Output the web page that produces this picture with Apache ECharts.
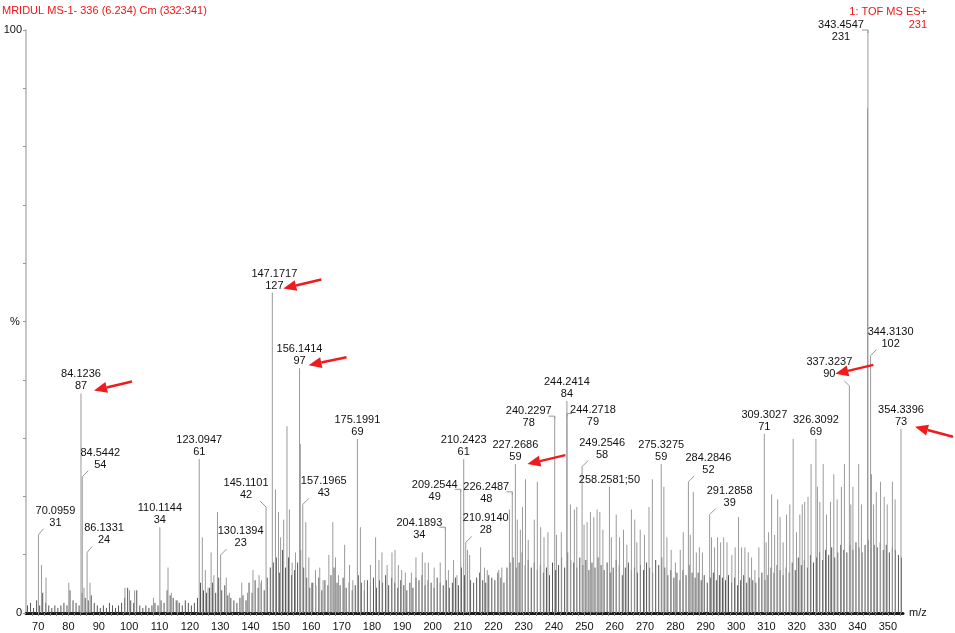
<!DOCTYPE html>
<html>
<head>
<meta charset="utf-8">
<title>MRIDUL MS-1</title>
<script src="https://cdn.jsdelivr.net/npm/echarts@6/dist/echarts.min.js"></script>
<style>
  html, body { margin: 0; padding: 0; background: #fff; }
  #main { width: 955px; height: 633px; }
</style>
</head>
<body>
<div id="main"></div>
<script>
// 基峰强度 (counts)
var baseCount = 231;

// 标注的峰: m/z 与强度
var labelMz = [70.0959, 84.1236, 84.5442, 86.1331, 110.1144, 123.0947, 130.1394, 145.1101,
  147.1717, 156.1414, 157.1965, 175.1991, 204.1893, 209.2544, 210.2423, 210.9140,
  226.2487, 227.2686, 240.2297, 244.2414, 244.2718, 249.2546, 258.2581, 275.3275,
  284.2846, 291.2858, 309.3027, 326.3092, 337.3237, 343.4547, 344.3130, 354.3396];
var labelCounts = [31, 87, 54, 24, 34, 61, 23, 42,
  127, 97, 43, 69, 34, 49, 61, 28,
  48, 59, 78, 84, 79, 58, 50, 59,
  52, 39, 71, 69, 90, 231, 102, 73];

// 其它峰 (未标注)
var otherMz = [71.1, 72.6, 80.1, 85.1, 87.1, 98.6, 100.1, 101.8, 108.0, 112.8, 113.9, 116.0,
  124.1, 125.1, 126.0, 127.0, 127.9, 129.1, 132.0, 133.0, 137.1, 139.0, 140.8, 142.8, 143.6,
  148.2, 149.2, 149.9, 150.9, 152.0, 152.8, 153.7, 154.8, 156.4, 158.2, 159.2, 160.1, 161.4,
  162.8, 163.9, 165.8, 167.1, 168.0, 169.0, 171.0, 172.6, 173.7, 176.2, 177.5, 179.5, 181.2,
  182.3, 183.3, 185.0, 186.6, 187.6, 188.7, 189.8, 191.0, 193.0, 194.5, 196.6, 197.5, 198.6,
  200.5, 202.5, 205.2, 206.9, 208.0, 211.5, 212.2, 215.8, 217.1, 218.0, 221.8, 222.8, 225.3,
  227.9, 228.9, 229.6, 230.6, 231.5, 233.5, 234.5, 235.6, 236.7, 238.0, 240.8, 242.4, 245.4,
  246.7, 247.5, 249.9, 250.9, 252.0, 253.1, 254.2, 255.1, 256.1, 258.9, 260.5, 261.6, 262.9,
  264.0, 265.5, 266.6, 267.3, 268.4, 269.8, 271.3, 272.4, 276.2, 277.2, 278.6, 280.0, 281.6,
  282.6, 284.9, 285.9, 286.9, 287.9, 288.9, 291.9, 292.9, 293.9, 294.9, 295.9, 297.0, 298.6,
  299.7, 300.8, 301.8, 302.9, 304.0, 305.1, 306.2, 307.5, 309.9, 310.7, 311.7, 312.7, 313.7,
  314.5, 315.5, 316.6, 317.7, 318.8, 319.9, 321.0, 321.8, 322.6, 323.7, 324.7, 326.8, 327.6,
  328.7, 329.8, 331.1, 332.2, 333.3, 334.7, 335.7, 337.8, 338.5, 340.4, 341.3, 343.3, 344.6,
  345.3, 346.2, 347.6, 348.8, 349.8, 351.5, 352.4];
var otherCounts = [19, 14, 12, 10, 12, 10, 9, 9, 6, 18, 8, 5,
  30, 17, 10, 24, 15, 40, 14, 8, 12, 8, 17, 15, 13,
  49, 40, 30, 37, 74, 41, 20, 24, 67, 36, 22, 12, 17,
  18, 13, 23, 36, 22, 15, 27, 19, 13, 34, 13, 19, 30,
  21, 24, 19, 24, 25, 19, 17, 16, 16, 22, 24, 20, 20,
  18, 20, 17, 21, 15, 25, 23, 26, 18, 17, 17, 18, 41,
  37, 33, 42, 53, 29, 37, 52, 34, 30, 32, 31, 32, 43,
  41, 42, 35, 36, 40, 38, 41, 40, 33, 30, 39, 30, 33,
  27, 41, 37, 28, 33, 31, 42, 53, 50, 30, 25, 20, 25,
  32, 31, 48, 24, 26, 24, 30, 26, 30, 28, 30, 28, 23,
  26, 38, 26, 26, 24, 22, 17, 26, 28, 32, 47, 31, 45,
  38, 28, 39, 43, 69, 32, 39, 43, 44, 46, 59, 50, 44,
  59, 39, 44, 55, 45, 50, 59, 43, 50, 59, 43, 200, 55,
  43, 48, 52, 46, 43, 52, 45];

// 背景小峰: 从 66.5 起每隔 1 个单位
var noiseStart = 66.5;
var noiseCounts = [
  3, 4, 2, 5, 3, 8, 4, 3, 2, 3,
  2, 3, 4, 3, 9, 5, 4, 3, 8, 6,
  5, 7, 4, 3, 2, 3, 2, 4, 3, 2,
  3, 4, 6, 10, 5, 4, 9, 3, 2, 3,
  2, 3, 4, 3, 5, 4, 9, 7, 6, 5,
  4, 3, 5, 4, 3, 4, 6, 12, 9, 8,
  10, 12, 8, 14, 9, 11, 7, 6, 5, 4,
  6, 7, 5, 12, 8, 13, 10, 12, 9, 14,
  18, 20, 22, 16, 25, 18, 22, 15, 17, 20,
  25, 18, 14, 10, 12, 11, 14, 9, 13, 11,
  15, 18, 12, 11, 14, 10, 12, 9, 11, 15,
  12, 9, 13, 11, 14, 10, 13, 12, 15, 11,
  14, 12, 10, 13, 11, 9, 12, 10, 14, 13,
  15, 11, 13, 12, 10, 14, 12, 11, 13, 10,
  12, 14, 11, 18, 15, 19, 13, 12, 14, 16,
  13, 12, 15, 14, 13, 16, 14, 12, 18, 20,
  22, 18, 20, 24, 19, 21, 18, 20, 17, 19,
  16, 18, 15, 20, 17, 19, 22, 18, 24, 21,
  20, 18, 22, 19, 21, 17, 20, 18, 22, 19,
  17, 20, 16, 18, 21, 19, 15, 18, 20, 17,
  18, 16, 19, 17, 20, 18, 16, 21, 19, 22,
  18, 15, 17, 14, 16, 13, 17, 15, 19, 16,
  14, 16, 13, 15, 12, 14, 16, 13, 15, 14,
  13, 15, 12, 14, 11, 13, 15, 12, 14, 13,
  12, 14, 16, 13, 15, 18, 16, 19, 17, 15,
  18, 16, 20, 17, 22, 19, 21, 18, 23, 20,
  22, 24, 21, 25, 23, 26, 22, 24, 27, 25,
  24, 27, 25, 28, 26, 24, 27, 29, 25, 27,
  26, 28, 25, 27, 24, 26, 25, 23, 22];

// 标注布局: [dx, dy, 引线类型, lx, ly]  类型 0 无, 1 斜线, 2 折线, 3 单行
var labelLayout = [
  [17, -6, 1, 5, -6], [0, -1, 0], [18, -6, 1, 6, -6], [17, -6, 1, 5, -6],
  [0, -1, 0], [0, -1, 0], [20, -6, 1, 6, -6], [-20, -6, 1, -6, -6],
  [2, -1, 0], [0, -1, 0], [21, -6, 1, 6, -6], [0, -1, 0],
  [-26, 14, 2, -6, 0], [-26, 14, 2, -6, 0], [0, -1, 0], [20, -6, 1, 6, -6],
  [-26, 13, 2, -6, 0], [0, -1, 0], [-26, 13, 2, -6, 0], [0, -1, 0],
  [26, 14, 2, 5, 0], [20, -6, 1, 6, -6], [0, -1, 3], [0, -1, 0],
  [20, -6, 1, 6, -6], [20, -6, 1, 6, -6], [0, -1, 0], [0, -1, 0],
  [-20, -6, 1, -5, -5], [-27, 13, 2, -6, 0], [20, -6, 1, 6, -6], [0, -1, 0]
];
// 红色箭头: 标注序号 -> [尾 dx, 尾 dy, 头 dx, 头 dy]
var arrows = {
  1: [51, -12, 13, -3],
  8: [49, -13, 11, -4],
  9: [47, -11, 9, -3],
  17: [50, -9, 12, 0],
  28: [24, -21, -14, -12],
  31: [52, 8, 14, -2]
};

function pct(c) { return c / baseCount * 100; }

var peakData = [];
for (var i = 0; i < labelMz.length; i++) peakData.push([labelMz[i], pct(labelCounts[i])]);
for (var j = 0; j < otherMz.length; j++) peakData.push([otherMz[j], pct(otherCounts[j])]);
var noiseData = noiseCounts.map(function (c, k) { return [noiseStart + k, pct(c)]; });
var labelData = labelMz.map(function (m, k) { return [m, pct(labelCounts[k]), k]; });

function stickItem(color) {
  return function (params, api) {
    var p0 = api.coord([api.value(0), 0]);
    var p1 = api.coord([api.value(0), api.value(1)]);
    return {
      type: 'line',
      shape: { x1: p0[0], y1: p0[1], x2: p1[0], y2: p1[1] },
      style: { stroke: color, lineWidth: 1 }
    };
  };
}

function labelItem(params, api) {
  var k = api.value(2);
  var top = api.coord([api.value(0), api.value(1)]);
  var lay = labelLayout[k];
  var mzText = labelMz[k].toFixed(4);
  var txt = lay[2] === 3 ? mzText + ';' + labelCounts[k] : mzText + '\n' + labelCounts[k];
  var children = [{
    type: 'text',
    style: {
      text: txt, x: top[0] + lay[0], y: top[1] + lay[1],
      align: 'center', verticalAlign: 'bottom',
      fontSize: 11, fontFamily: 'Liberation Sans, Arial', lineHeight: 12, fill: '#111'
    }
  }];
  // 引线
  if (lay[2] === 1) {
    children.push({
      type: 'line',
      shape: { x1: top[0], y1: top[1], x2: top[0] + lay[3], y2: top[1] + lay[4] },
      style: { stroke: '#999', lineWidth: 1 }
    });
  } else if (lay[2] === 2) {
    children.push({
      type: 'polyline',
      shape: { points: [[top[0] + lay[3], top[1] + lay[4]], [top[0], top[1] + lay[4]], [top[0], top[1] + 3]] },
      style: { stroke: '#999', lineWidth: 1, fill: null }
    });
  }
  // 箭头
  var a = arrows[k];
  if (a) {
    var tx = top[0] + a[0], ty = top[1] + a[1];
    var hx = top[0] + a[2], hy = top[1] + a[3];
    var len = Math.sqrt((hx - tx) * (hx - tx) + (hy - ty) * (hy - ty));
    var ux = (hx - tx) / len, uy = (hy - ty) / len;
    var bx = hx - ux * 13, by = hy - uy * 13;
    children.push({
      type: 'line',
      shape: { x1: tx, y1: ty, x2: bx, y2: by },
      style: { stroke: '#ee1c1c', lineWidth: 2.5 }
    });
    children.push({
      type: 'polygon',
      shape: { points: [[hx, hy], [bx - uy * 5.5, by + ux * 5.5], [bx + uy * 5.5, by - ux * 5.5]] },
      style: { fill: '#ee1c1c' }
    });
  }
  return { type: 'group', children: children };
}

var chart = echarts.init(document.getElementById('main'));
var option = {
  animation: false,
  backgroundColor: '#fff',
  textStyle: { fontFamily: 'Liberation Sans, Arial' },
  grid: { left: 26, right: 52, top: 30, bottom: 20, containLabel: false, outerBoundsMode: 'none' },
  graphic: [
    {
      type: 'text', x: 2, y: 5,
      style: { text: 'MRIDUL MS-1- 336 (6.234) Cm (332:341)', fill: '#f01414', fontSize: 11, fontFamily: 'Liberation Sans, Arial' }
    },
    {
      type: 'text', x: 927, y: 5,
      style: { text: '1: TOF MS ES+\n231', fill: '#f01414', fontSize: 11, lineHeight: 13, align: 'right', fontFamily: 'Liberation Sans, Arial' }
    },
    {
      type: 'text', x: 15, y: 322,
      style: { text: '%', fill: '#111', fontSize: 11, align: 'center', verticalAlign: 'middle', fontFamily: 'Liberation Sans, Arial' }
    }
  ],
  xAxis: {
    type: 'value', min: 66, max: 355, interval: 2,
    name: 'm/z', nameLocation: 'end', nameGap: 6,
    nameTextStyle: { color: '#111', fontSize: 11, verticalAlign: 'middle', padding: [8, 0, 0, 0] },
    axisLine: { show: true, lineStyle: { color: '#1a1a1a', width: 3 } },
    axisTick: { show: true, length: 3, lineStyle: { color: '#888' } },
    axisLabel: {
      color: '#111', fontSize: 11, margin: 8, showMaxLabel: false, showMinLabel: false,
      formatter: function (v) { return v % 10 === 0 ? String(v) : ''; }
    },
    splitLine: { show: false }
  },
  yAxis: {
    type: 'value', min: 0, max: 100, interval: 10,
    axisLine: { show: true, lineStyle: { color: '#b4b4b4', width: 1.5 } },
    axisTick: { show: true, length: 3, lineStyle: { color: '#999' } },
    axisLabel: {
      color: '#111', fontSize: 11, margin: 4,
      formatter: function (v) { return v === 0 || v === 100 ? String(v) : ''; }
    },
    splitLine: { show: false }
  },
  series: [
    { type: 'custom', name: 'noise', renderItem: stickItem('#555'), data: noiseData, z: 1 },
    { type: 'custom', name: 'peaks', renderItem: stickItem('#9a9a9a'), data: peakData, z: 2 },
    { type: 'custom', name: 'labels', renderItem: labelItem, data: labelData, z: 5 }
  ]
};
chart.setOption(option);
window.addEventListener('resize', function () {
  chart.resize();
});
</script>
</body>
</html>
